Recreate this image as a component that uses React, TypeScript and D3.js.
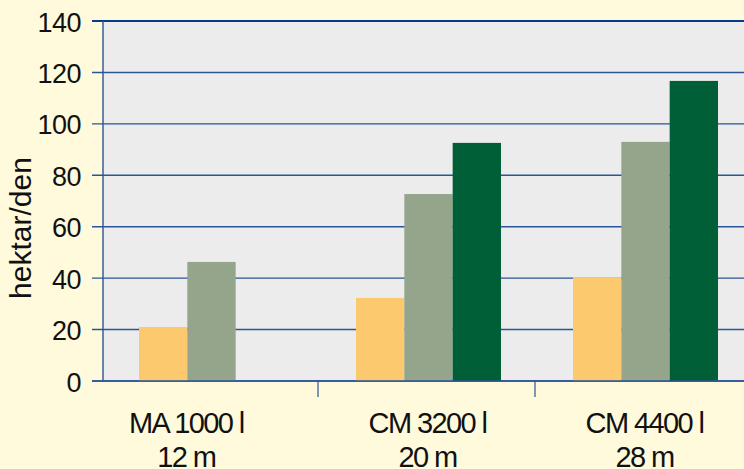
import React from "react";
import * as d3 from "d3";

const categories = ["MA 1000 l|12 m", "CM 3200 l|20 m", "CM 4400 l|28 m"];
const seriesNames = ["s1", "s2", "s3"];
const series1 = [21, 32.3, 40.4];
const series2 = [46.3, 72.7, 93];
const series3: (number | null)[] = [null, 92.6, 116.7];
const yTicks = [0, 20, 40, 60, 80, 100, 120, 140];
const colors = ["#fcc96e", "#94a58b", "#005f36"];
const yLabel = "hektar/den";

const W = 744;
const H = 469;
const left = 103;
const top = 21;
const bottom = 381;

export default function App() {
  const y = d3.scaleLinear().domain([0, 140]).range([bottom, top]);
  const x0 = d3.scaleBand().domain(categories).range([left, 754]).padding(0);
  const x1 = d3
    .scaleBand()
    .domain(seriesNames)
    .range([0, x0.bandwidth()])
    .paddingInner(0)
    .paddingOuter(0.745);
  const allSeries = [series1, series2, series3];
  const font = "'Liberation Sans', Arial, sans-serif";

  const labelCenter = (c: string, ci: number) => {
    const present = seriesNames.filter((_, si) => allSeries[si][ci] != null);
    const xs = present.map((s) => (x0(c) as number) + (x1(s) as number));
    const minX = d3.min(xs) as number;
    const maxX = (d3.max(xs) as number) + x1.bandwidth();
    return (minX + maxX) / 2 - 1;
  };

  return (
    <svg
      width={W}
      height={H}
      style={{ position: "absolute", left: 0, top: 0, background: "#fffadc" }}
    >
      <rect x={0} y={0} width={W} height={H} fill="#fffadc" />
      <rect x={left} y={top} width={W - left} height={bottom - top} fill="#ebeceb" />
      {yTicks.map((t) => (
        <g key={t}>
          <line
            x1={92}
            x2={W}
            y1={y(t)}
            y2={y(t)}
            stroke={t === 140 ? "#063b8a" : "#2a5599"}
            strokeWidth={t === 140 ? 2.2 : 1.4}
          />
          <text
            x={81}
            y={y(t) + 1.5}
            textAnchor="end"
            dominantBaseline="central"
            fontFamily={font}
            fontSize={27}
            letterSpacing={-0.5}
            fill="#111"
          >
            {t}
          </text>
        </g>
      ))}
      {categories.map((c, ci) =>
        allSeries.map((s, si) => {
          const v = s[ci];
          if (v == null) return null;
          return (
            <rect
              key={c + si}
              x={(x0(c) as number) + (x1(seriesNames[si]) as number)}
              y={y(v)}
              width={x1.bandwidth()}
              height={y(0) - y(v)}
              fill={colors[si]}
            />
          );
        })
      )}
      <line x1={left} x2={left} y1={top} y2={bottom} stroke="#2a5599" strokeWidth={1.4} />
      <line x1={92} x2={W} y1={bottom} y2={bottom} stroke="#2a5599" strokeWidth={1.4} />
      {categories.slice(1).map((c) => (
        <line
          key={c}
          x1={(x0(c) as number) - 2}
          x2={(x0(c) as number) - 2}
          y1={bottom}
          y2={397}
          stroke="#2a5599"
          strokeWidth={1.2}
        />
      ))}
      {categories.map((c, ci) => {
        const [l1, l2] = c.split("|");
        const cx = labelCenter(c, ci);
        return (
          <text
            key={c}
            textAnchor="middle"
            fontFamily={font}
            fontSize={29}
            letterSpacing={-1.6}
            fill="#111"
          >
            <tspan x={cx} y={433}>
              {l1}
            </tspan>
            <tspan x={cx} y={467}>
              {l2}
            </tspan>
          </text>
        );
      })}
      <text
        transform={`translate(31,228) rotate(-90)`}
        textAnchor="middle"
        fontFamily={font}
        fontSize={30}
        fill="#111"
      >
        {yLabel}
      </text>
    </svg>
  );
}
